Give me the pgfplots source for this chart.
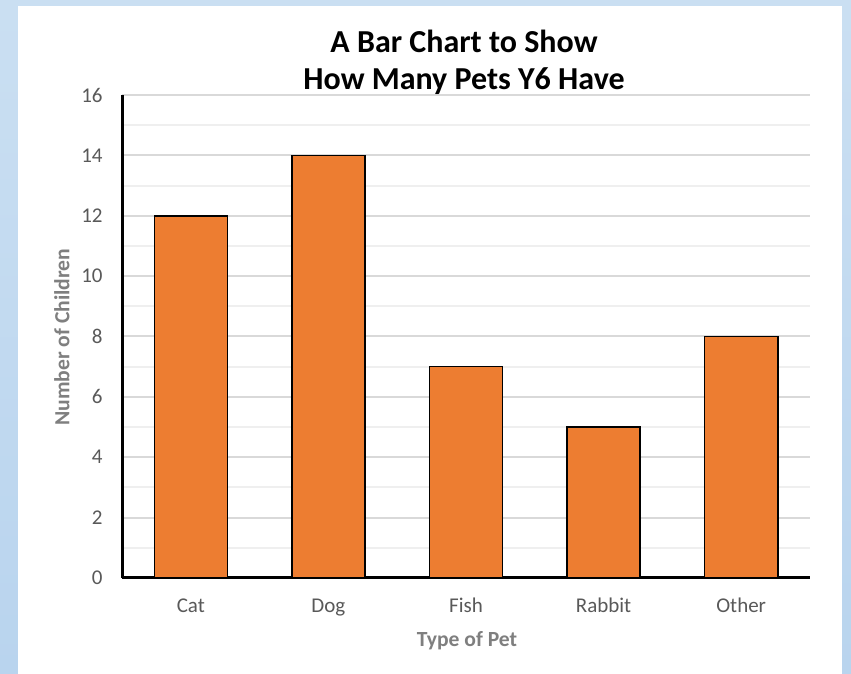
\documentclass[border=0pt]{standalone}
\usepackage{pgfplots}
\pgfplotsset{compat=1.18}
\usepackage{fontspec}
\setmainfont{Carlito}
\definecolor{barorange}{HTML}{ED7D31}
\definecolor{txtgray}{HTML}{595959}
\definecolor{lblgray}{HTML}{7F7F7F}
\definecolor{majgrid}{HTML}{D9D9D9}
\definecolor{mingrid}{HTML}{EFEFEF}
\definecolor{bgtop}{HTML}{CADFF2}
\definecolor{bgbot}{HTML}{B9D4EE}
\begin{document}
\begin{tikzpicture}
\shade[top color=bgtop, bottom color=bgbot] (0,0) rectangle (425.5pt,337pt);
\fill[white] (9pt,0pt) rectangle (421pt,334pt);
\begin{axis}[
  at={(61pt,48pt)}, anchor=south west,
  scale only axis, width=344pt, height=241.5pt,
  xmin=-0.5, xmax=4.5, ymin=0, ymax=16,
  ybar, bar width=36.5pt,
  xtick={0,1,2,3,4},
  xticklabels={Cat,Dog,Fish,Rabbit,Other},
  ytick={0,2,4,6,8,10,12,14,16},
  minor y tick num=1,
  ymajorgrids, yminorgrids,
  major grid style={color=majgrid, line width=1pt},
  minor grid style={color=mingrid, line width=1pt},
  axis lines=left,
  axis line style={line width=1.5pt, black, -},
  major tick length=0pt, minor tick length=0pt,
  /pgf/number format/assume math mode=true,
  tick label style={font=\fontsize{10.5}{12}\selectfont, text=txtgray, inner sep=0pt},
  yticklabel style={anchor=east, xshift=-9.5pt},
  xticklabel style={anchor=north, yshift=-10pt, text height=7pt, text depth=2pt},
]
\addplot[fill=barorange, draw=black, line width=0.8pt] coordinates {(0,12) (1,14) (2,7) (3,5) (4,8)};
\end{axis}
\node[font=\bfseries\fontsize{16}{18.5}\selectfont, align=center] at (232pt,306pt) {A Bar Chart to Show\\How Many Pets Y6 Have};
\node[rotate=90, font=\bfseries\fontsize{10.8}{12}\selectfont, text=lblgray] at (31pt,168.5pt) {Number of Children};
\node[font=\bfseries\fontsize{10.8}{12}\selectfont, text=lblgray] at (233.5pt,16.5pt) {Type of Pet};
\pgfresetboundingbox
\useasboundingbox (0,0) rectangle (425.5pt,337pt);
\end{tikzpicture}
\end{document}
